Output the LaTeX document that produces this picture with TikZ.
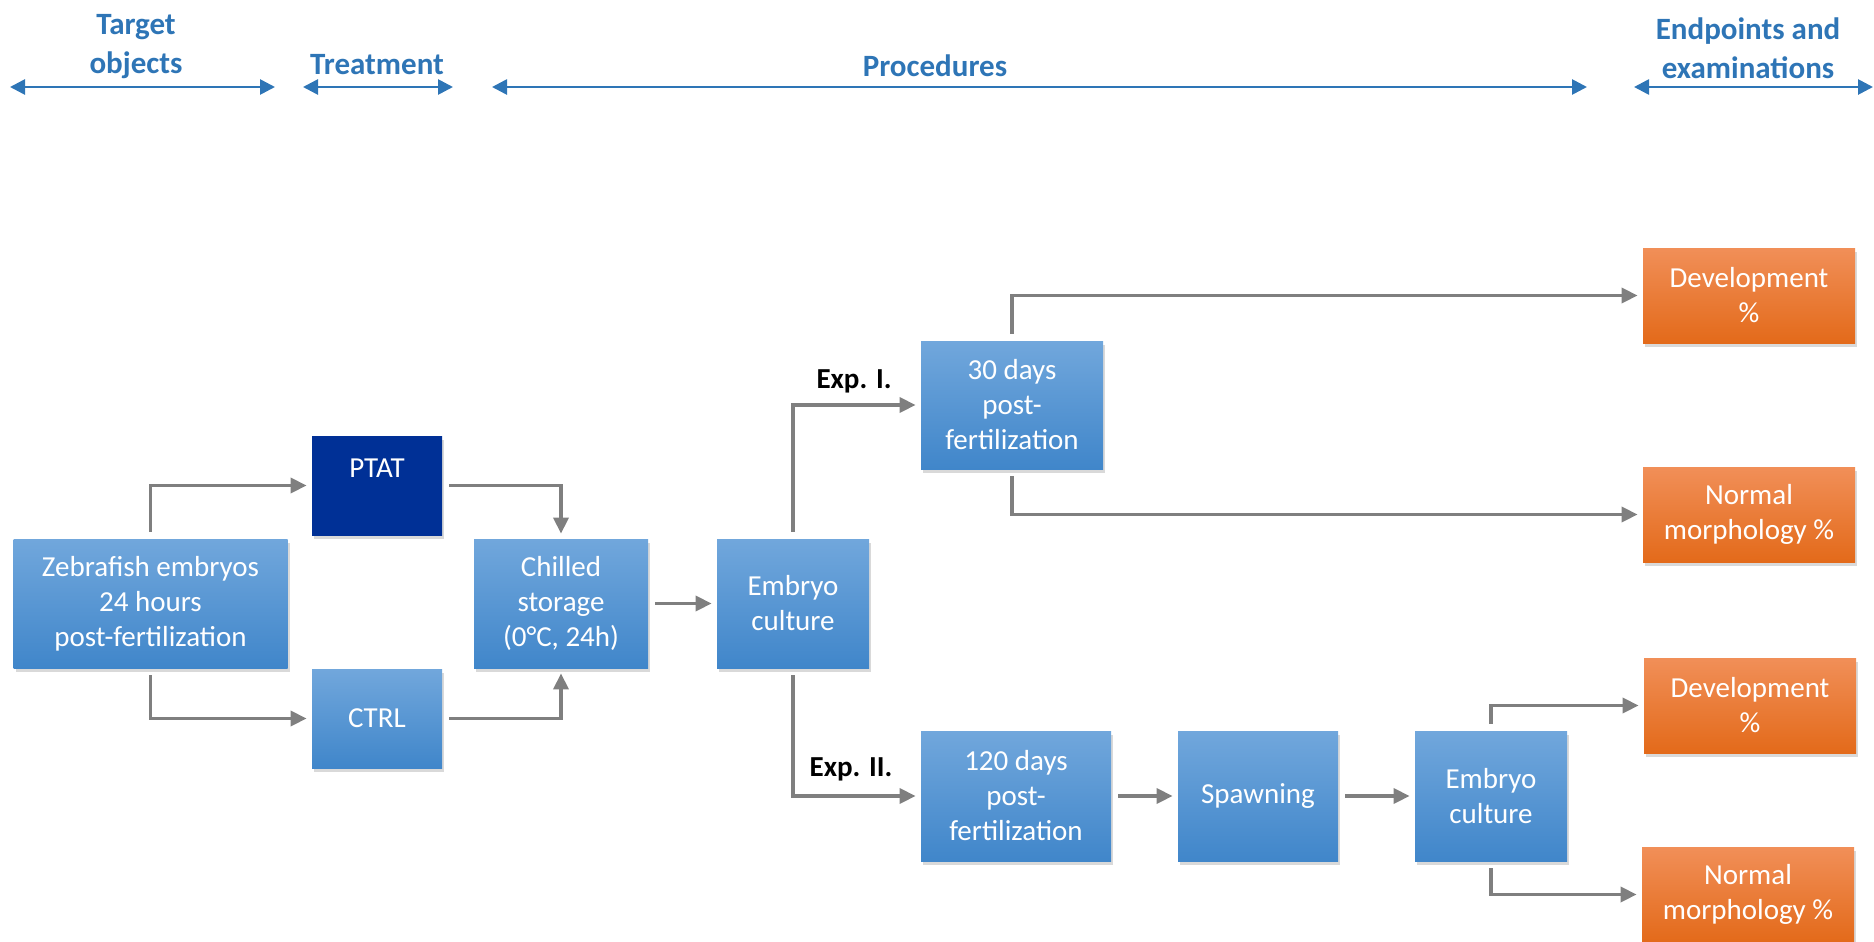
\documentclass[tikz,border=0pt]{standalone}
\usepackage{fontspec}
\setmainfont{Carlito}
\usetikzlibrary{arrows.meta,shadows}

\definecolor{hdrblue}{RGB}{46,117,182}
\definecolor{boxtop}{RGB}{113,167,220}
\definecolor{boxbot}{RGB}{64,134,202}
\definecolor{ptatblue}{RGB}{0,48,150}
\definecolor{orgtop}{RGB}{241,143,88}
\definecolor{orgbot}{RGB}{227,106,26}
\definecolor{linkgray}{RGB}{127,127,127}

\begin{document}
\begin{tikzpicture}[x=0.5pt,y=-0.5pt,
  stagebox/.style={rectangle,inner sep=2pt,align=center,text=white,
    font=\fontsize{14.5}{17.5}\selectfont,
    top color=boxtop,bottom color=boxbot,
    drop shadow={shadow xshift=1.2pt,shadow yshift=-1.8pt,opacity=0.3}},
  endbox/.style={stagebox,top color=orgtop,bottom color=orgbot,
    minimum width=106pt,minimum height=47.5pt},
  link/.style={draw=linkgray,line width=1.8pt,
    -{Triangle[length=8pt,width=7.5pt]},shorten <=3.5pt,shorten >=2.5pt},
  span/.style={draw=hdrblue,line width=1.35pt,
    {Triangle[length=7.5pt,width=7.5pt]}-{Triangle[length=7.5pt,width=7.5pt]}},
  hdr/.style={text=hdrblue,align=center,
    font=\fontsize{15.5}{19.5}\selectfont\bfseries},
  explabel/.style={font=\fontsize{14.5}{17.5}\selectfont\bfseries}]
  \useasboundingbox (0,0) rectangle (1874,942);

  % column headers
  \node[hdr] (tgt) at (136,47) {Target\\objects};
  \node[hdr] (trt) at (377,65) {Treatment};
  \node[hdr] (proc) at (935,66) {Procedures};
  \node[hdr] (endp) at (1748,48) {Endpoints and\\examinations};
  \coordinate (tgtL) at (10,87);   \coordinate (tgtR) at (275,87);
  \coordinate (trtL) at (303,87);  \coordinate (trtR) at (453,87);
  \coordinate (procL) at (492,87); \coordinate (procR) at (1587,87);
  \coordinate (endpL) at (1634,87); \coordinate (endpR) at (1873,87);
  \draw[span] (tgtL) -- (tgtR);
  \draw[span] (trtL) -- (trtR);
  \draw[span] (procL) -- (procR);
  \draw[span] (endpL) -- (endpR);

  % treatment
  \node[stagebox,minimum width=137pt,minimum height=64.5pt] (zebra) at (150.5,603.5)
    {Zebrafish embryos\\24 hours\\post-fertilization};
  \node[stagebox,top color=ptatblue,bottom color=ptatblue,
    minimum width=65pt,minimum height=49.5pt] (ptat) at (377,485.5) {PTAT\\\mbox{}};
  \node[stagebox,minimum width=65pt,minimum height=49.5pt] (ctrl) at (377,718.5) {CTRL};
  \node[stagebox,minimum width=87pt,minimum height=64.5pt] (chill) at (561,603.5)
    {Chilled\\storage\\(0°C, 24h)};
  \node[stagebox,minimum width=76pt,minimum height=64.5pt] (cult1) at (793,603.5)
    {Embryo\\culture};

  % experiments
  \node[stagebox,minimum width=91pt,minimum height=64pt] (days30) at (1012,405)
    {30 days\\post-\\fertilization};
  \node[stagebox,minimum width=95pt,minimum height=65pt] (days120) at (1016,796)
    {120 days\\post-\\fertilization};
  \node[stagebox,minimum width=80pt,minimum height=65pt] (spawn) at (1258,796) {Spawning};
  \node[stagebox,minimum width=76pt,minimum height=65pt] (cult2) at (1491,796)
    {Embryo\\culture};
  \node[explabel] (exp1) at (854,381) {Exp. I.};
  \node[explabel] (exp2) at (851,769) {Exp. II.};

  % endpoints
  \node[endbox] (dev1) at (1749,295.5) {Development\\\%};
  \node[endbox] (norm1) at (1749,514.5) {Normal\\morphology \%};
  \node[endbox] (dev2) at (1750,705.5) {Development\\\%};
  \node[endbox] (norm2) at (1748,894.5) {Normal\\morphology \%};

  \draw[link] (zebra) |- (ptat);
  \draw[link] (zebra) |- (ctrl);
  \draw[link] (ptat) -| (chill);
  \draw[link] (ctrl) -| (chill);
  \draw[link] (chill) -- (cult1);
  \draw[link] (cult1) |- (days30);
  \draw[link] (cult1) |- (days120);
  \draw[link] (days30) |- (dev1);
  \draw[link] (days30) |- (norm1);
  \draw[link] (days120) -- (spawn);
  \draw[link] (spawn) -- (cult2);
  \draw[link] (cult2) |- (dev2);
  \draw[link] (cult2) |- (norm2);
\end{tikzpicture}
\end{document}
